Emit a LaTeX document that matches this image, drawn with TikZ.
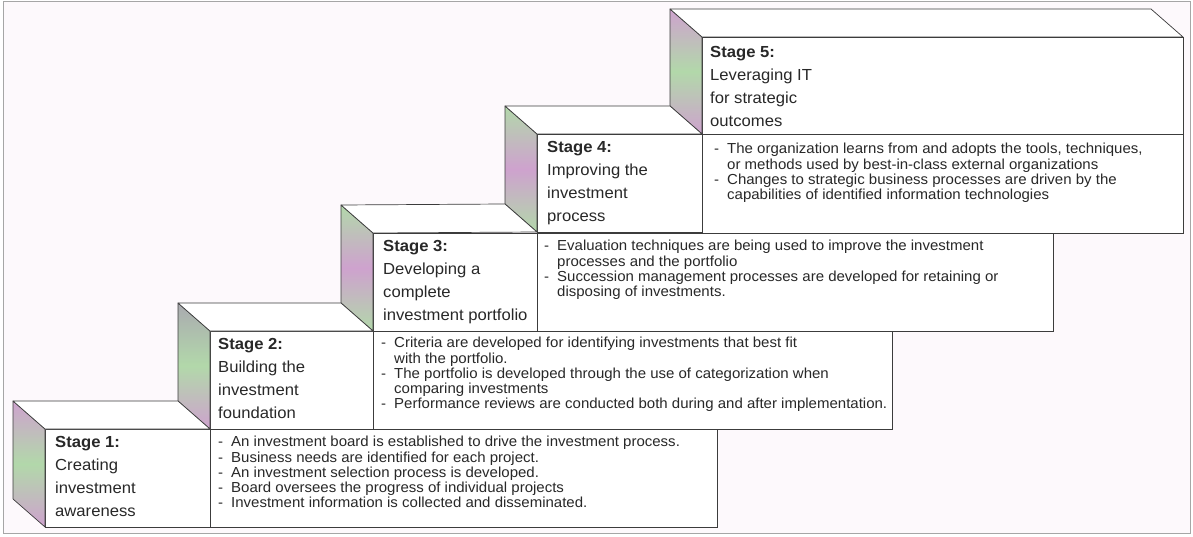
\documentclass[tikz,border=0pt]{standalone}
\usepackage{fontspec}
\setmainfont{Liberation Sans}
\newfontfamily\descfont[FakeStretch=1.035]{Liberation Sans}
\newfontfamily\labfont[FakeStretch=1.04]{Liberation Sans}
\usetikzlibrary{calc}
\definecolor{mauve}{RGB}{206,162,206}
\definecolor{sgreen}{RGB}{178,216,170}
\definecolor{sgray}{RGB}{170,170,176}
\definecolor{edge}{RGB}{60,60,60}
\definecolor{txt}{RGB}{40,40,40}
\definecolor{paper}{RGB}{253,249,252}
\newcommand\bul{\makebox[13pt][l]{-}}
\newcommand\cont{\hspace*{13pt}}
\begin{document}
\begin{tikzpicture}[x=1pt,y=-1pt,
  cell/.style={draw=edge, line width=0.7pt, fill=white, inner sep=0pt, outer sep=0pt, anchor=north west, minimum height=98pt},
  labeltext/.style={anchor=north west, inner sep=0pt, align=left, font=\labfont\fontsize{16}{23}\selectfont, text=txt},
  desctext/.style={anchor=north west, inner sep=0pt, align=left, font=\descfont\fontsize{14.5}{15.3}\selectfont, text=txt},
  face/.style={draw=edge, line width=0.7pt, line join=round},
  topface/.style={draw=edge, line width=0.7pt, fill=white, line join=round}]
\useasboundingbox (0,0) rectangle (1193,537);
\draw[gray!70, line width=0.8pt, fill=paper] (3,1.5) rectangle (1190.5,533.5);

% cells
\node[cell, minimum width=165pt] (l1) at (45,429) {};
\node[cell, minimum width=507pt] (d1) at (210,429) {};
\node[cell, minimum width=163pt] (l2) at (210,331) {};
\node[cell, minimum width=519pt] (d2) at (373,331) {};
\node[cell, minimum width=164pt] (l3) at (373,233) {};
\node[cell, minimum width=516pt] (d3) at (537,233) {};
\node[cell, minimum width=165pt] (l4) at (537,134) {};
\node[cell, minimum width=481pt, minimum height=99pt] (d4) at (702,134) {};
\node[cell, minimum width=481pt, minimum height=97pt] (l5) at (702,37) {};

% side faces
\shade[face, top color=mauve, bottom color=mauve, middle color=sgreen]
  ($(l1.north west)+(-32,-28)$) -- (l1.north west) -- (l1.south west) -- ($(l1.south west)+(-32,-28)$) -- cycle;
\shade[face, top color=sgray, bottom color=mauve, middle color=sgreen]
  ($(l2.north west)+(-32,-28)$) -- (l2.north west) -- (l2.south west) -- ($(l2.south west)+(-32,-28)$) -- cycle;
\shade[face, top color=sgreen, bottom color=sgreen, middle color=mauve]
  ($(l3.north west)+(-32,-28)$) -- (l3.north west) -- (l3.south west) -- ($(l3.south west)+(-32,-28)$) -- cycle;
\shade[face, top color=sgreen, bottom color=sgreen, middle color=mauve]
  ($(l4.north west)+(-32,-28)$) -- (l4.north west) -- (l4.south west) -- ($(l4.south west)+(-32,-28)$) -- cycle;
\shade[face, top color=mauve, bottom color=mauve, middle color=sgreen]
  ($(l5.north west)+(-32,-28)$) -- (l5.north west) -- (l5.south west) -- ($(l5.south west)+(-32,-28)$) -- cycle;

% top faces
\draw[topface] ($(l1.north west)+(-32,-28)$) -- ($(l2.south west)+(-32,-28)$) -- (l2.south west) -- (l1.north west) -- cycle;
\draw[topface] ($(l2.north west)+(-32,-28)$) -- ($(l3.south west)+(-32,-28)$) -- (l3.south west) -- (l2.north west) -- cycle;
\draw[topface] ($(l3.north west)+(-32,-28)$) -- ($(l4.south west)+(-32,-28)$) -- (l4.south west) -- (l3.north west) -- cycle;
\draw[topface] ($(l4.north west)+(-32,-28)$) -- ($(l5.south west)+(-32,-28)$) -- (l5.south west) -- (l4.north west) -- cycle;
\draw[topface] ($(l5.north west)+(-32,-28)$) -- ($(l5.north east)+(-32,-28)$) -- (l5.north east) -- (l5.north west) -- cycle;

% labels
\node[labeltext] (s1) at ($(l1.north west)+(10,7)$) {\textbf{Stage 1:}\\Creating\\investment\\awareness};
\node[labeltext] (s2) at ($(l2.north west)+(8,7)$) {\textbf{Stage 2:}\\Building the\\investment\\foundation};
\node[labeltext] (s3) at ($(l3.north west)+(10,7)$) {\textbf{Stage 3:}\\Developing a\\complete\\investment portfolio};
\node[labeltext] (s4) at ($(l4.north west)+(10,7)$) {\textbf{Stage 4:}\\Improving the\\investment\\process};
\node[labeltext] (s5) at ($(l5.north west)+(8,9)$) {\textbf{Stage 5:}\\Leveraging IT\\for strategic\\outcomes};

% descriptions
\node[desctext] (t1) at ($(d1.north west)+(8,7)$) {\bul An investment board is established to drive the investment process.\\
\bul Business needs are identified for each project.\\
\bul An investment selection process is developed.\\
\bul Board oversees the progress of individual projects\\
\bul Investment information is collected and disseminated.};
\node[desctext] (t2) at ($(d2.north west)+(8,6)$) {\bul Criteria are developed for identifying investments that best fit\\
\cont with the portfolio.\\
\bul The portfolio is developed through the use of categorization when\\
\cont comparing investments\\
\bul Performance reviews are conducted both during and after implementation.};
\node[desctext] (t3) at ($(d3.north west)+(7,7)$) {\bul Evaluation techniques are being used to improve the investment\\
\cont processes and the portfolio\\
\bul Succession management processes are developed for retaining or\\
\cont disposing of investments.};
\node[desctext] (t4) at ($(d4.north west)+(12,9)$) {\bul The organization learns from and adopts the tools, techniques,\\
\cont or methods used by best-in-class external organizations\\
\bul Changes to strategic business processes are driven by the\\
\cont capabilities of identified information technologies};
\end{tikzpicture}
\end{document}
